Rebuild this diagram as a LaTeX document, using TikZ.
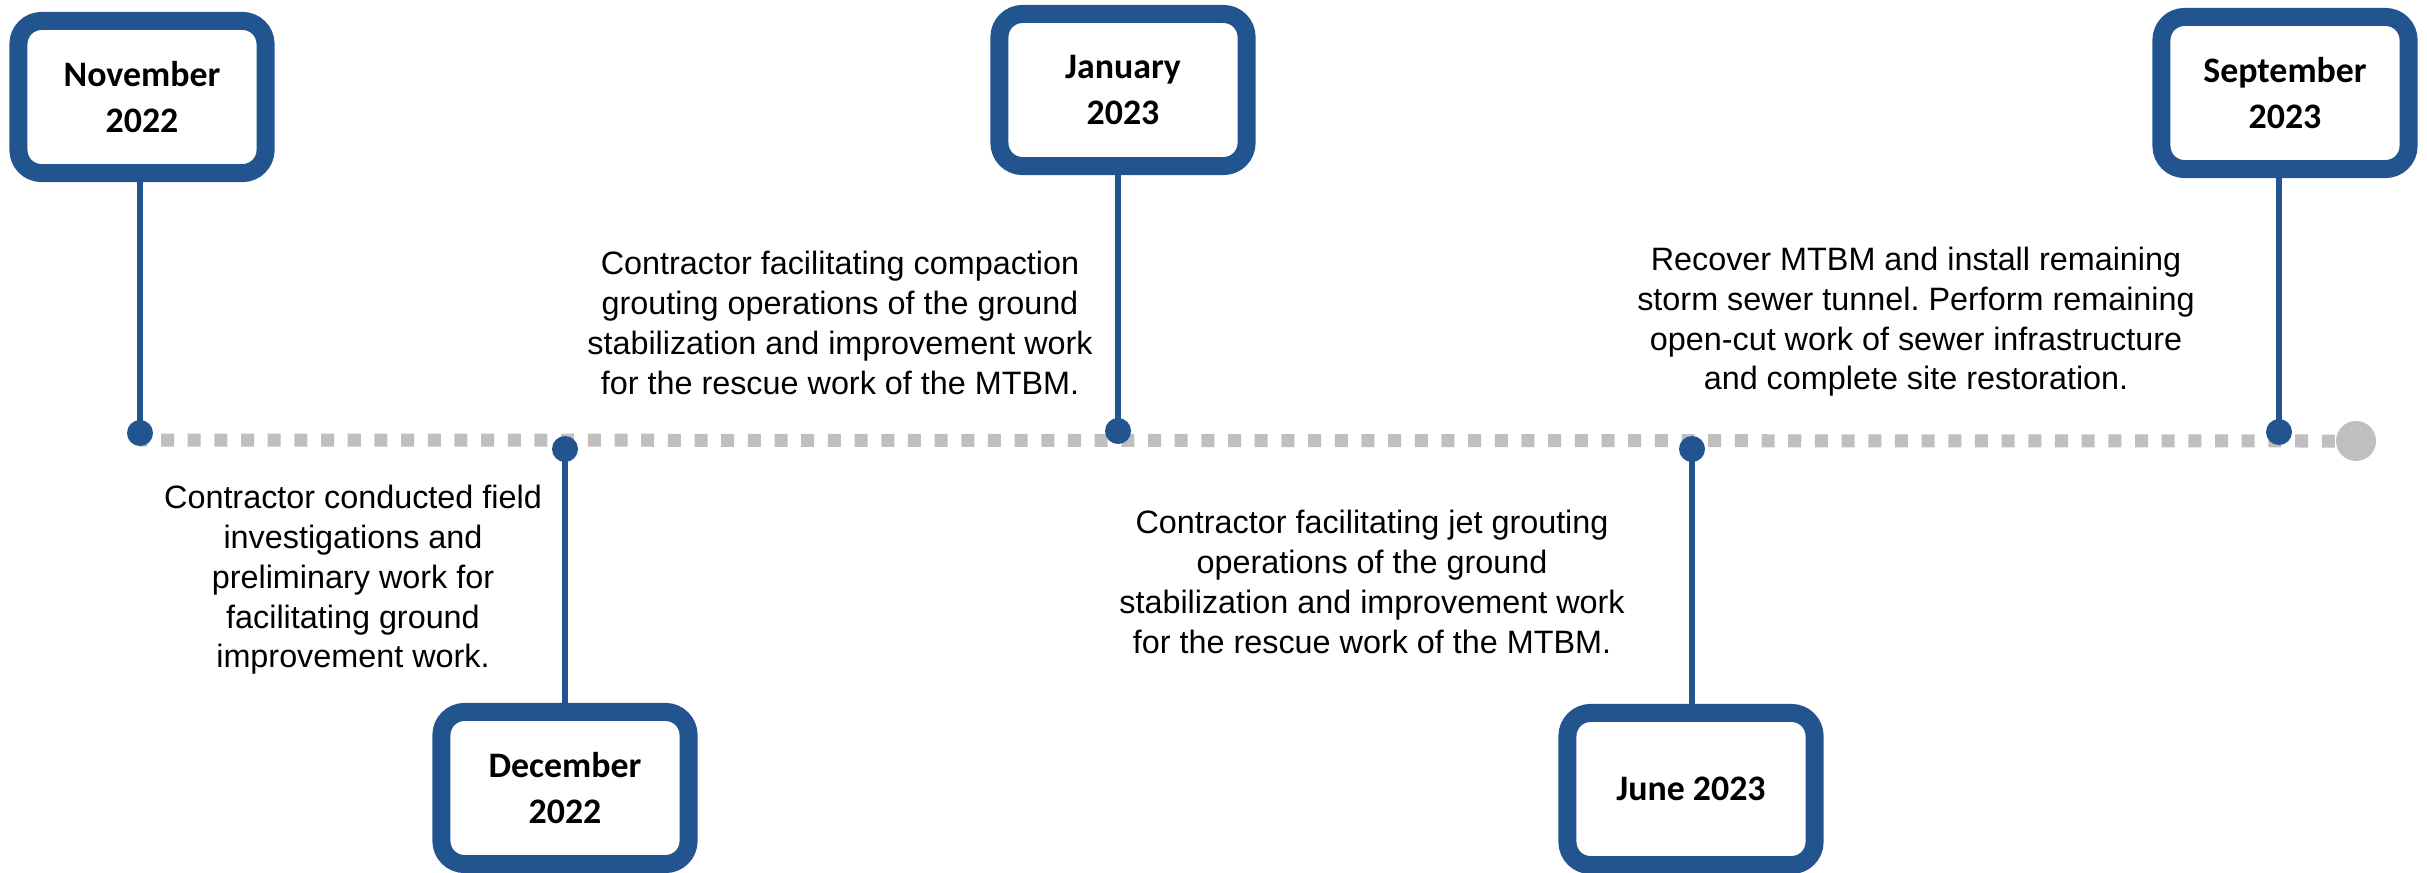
\documentclass[tikz,border=0pt]{standalone}
\usepackage{fontspec}
\setmainfont{Liberation Sans}
\newfontfamily\datefont{Carlito}
\usetikzlibrary{positioning}
\definecolor{tlblue}{RGB}{34,85,143}
\definecolor{tlgray}{RGB}{191,191,191}
\frenchspacing

\begin{document}
\begin{tikzpicture}[x=0.01cm, y=-0.01cm,
  datebox/.style={draw=tlblue, fill=white, line width=0.18cm, rounded corners=0.23cm, minimum width=2.47cm, minimum height=1.52cm, inner sep=0pt, align=center, font=\datefont\bfseries\fontsize{10.2}{13}\selectfont},
  tldot/.style={circle, fill=tlblue, minimum size=0.26cm, inner sep=0pt},
  desc/.style={align=center, inner sep=0pt, font=\fontsize{9.2}{11.3}\selectfont},
  stem/.style={draw=tlblue, line width=0.06cm}]
\useasboundingbox (0,0) rectangle (2427,872);
\coordinate (start) at (140,440);
\node[circle, fill=tlgray, minimum size=0.4cm, inner sep=0pt] (end) at (2356,441) {};
\draw[tlgray, line width=0.13cm, dash pattern=on 0.13cm off 0.1366cm, dash phase=0.0566cm] (start) -- (end.west);

\node[tldot] (nov dot) at (140,433) {};
\node[tldot] (dec dot) at (565,449) {};
\node[tldot] (jan dot) at (1118,431) {};
\node[tldot] (jun dot) at (1692,449) {};
\node[tldot] (sep dot) at (2279,432) {};

\node[datebox] (nov) at (142,97) {November\\2022};
\node[datebox] (dec) at (565,788) {December\\2022};
\node[datebox] (jan) at (1123,90) {January\\2023};
\node[datebox] (jun) at (1691,789) {June 2023};
\node[datebox] (sep) at (2285,93) {September\\2023};

\draw[stem] (nov dot.center) -- (nov dot |- nov.south);
\draw[stem] (dec dot.center) -- (dec dot |- dec.north);
\draw[stem] (jan dot.center) -- (jan dot |- jan.south);
\draw[stem] (jun dot.center) -- (jun dot |- jun.north);
\draw[stem] (sep dot.center) -- (sep dot |- sep.south);

\node[desc] (nov txt) at (353,580) {Contractor conducted field\\investigations and\\preliminary work for\\facilitating ground\\improvement work.};
\node[desc] (jan txt) at (840,323) {Contractor facilitating compaction\\grouting operations of the ground\\stabilization and improvement work\\for the rescue work of the MTBM.};
\node[desc] (jun txt) at (1372,582) {Contractor facilitating jet grouting\\operations of the ground\\stabilization and improvement work\\for the rescue work of the MTBM.};
\node[desc] (sep txt) at (1916,322) {Recover MTBM and install remaining\\storm sewer tunnel. Perform remaining\\open-cut work of sewer infrastructure\\and complete site restoration.};
\end{tikzpicture}
\end{document}
